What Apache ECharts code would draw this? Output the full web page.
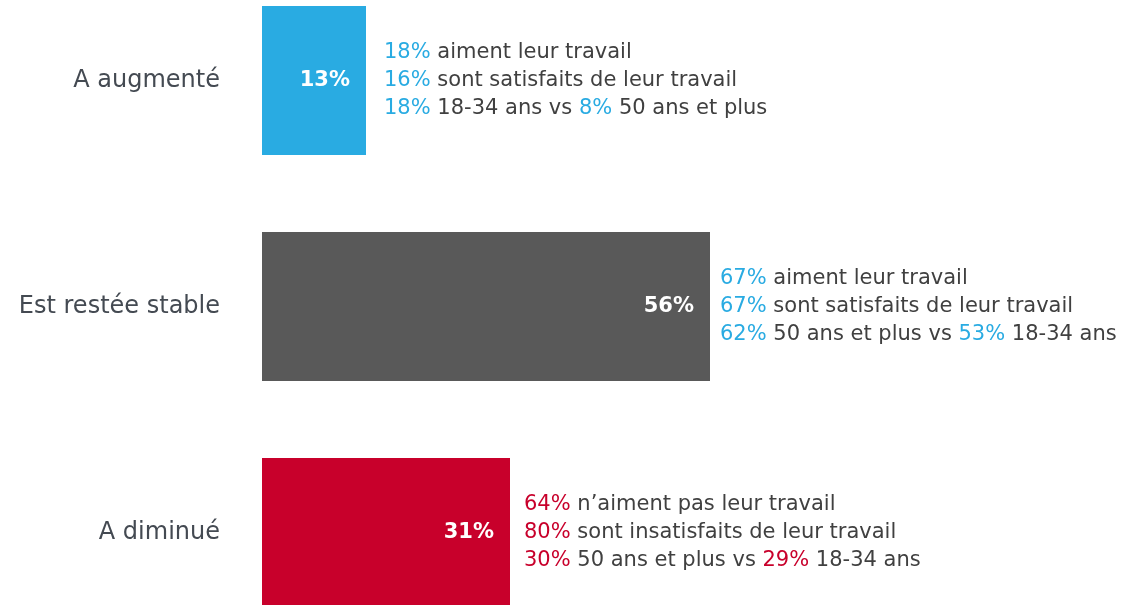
<!DOCTYPE html>
<html>
<head>
<meta charset="utf-8">
<script src="https://cdn.jsdelivr.net/npm/echarts@6/dist/echarts.min.js"></script>
<style>
html,body{margin:0;padding:0;background:#fff;}
#chart{width:1130px;height:605px;}
</style>
</head>
<body>
<div id="chart"></div>
<script>
// ---- Data ----
const categories = ['A augmenté', 'Est restée stable', 'A diminué'];
const values = [13, 56, 31];
// annotation lines: each line is a list of [percent, text] segments
const notes = [
  [
    [['18%', 'aiment leur travail']],
    [['16%', 'sont satisfaits de leur travail']],
    [['18%', '18-34 ans vs'], ['8%', '50 ans et plus']]
  ],
  [
    [['67%', 'aiment leur travail']],
    [['67%', 'sont satisfaits de leur travail']],
    [['62%', '50 ans et plus vs'], ['53%', '18-34 ans']]
  ],
  [
    [['64%', 'n\u2019aiment pas leur travail']],
    [['80%', 'sont insatisfaits de leur travail']],
    [['30%', '50 ans et plus vs'], ['29%', '18-34 ans']]
  ]
];

// ---- Styles ----
const barColors = ['#29ABE2', '#595959', '#C8002B'];
const pctStyle = ['pb', 'pb', 'pr'];
const noteGap = [18, 10, 14];
const FONT = 'DejaVu Sans';
const NFS = 21;

function noteText(idx) {
  const k = pctStyle[idx];
  return notes[idx].map(line =>
    line.map(seg => '{' + k + '|' + seg[0] + '}{t| ' + seg[1] + '}').join('{t| }')
  ).join('\n');
}

const chart = echarts.init(document.getElementById('chart'), null, {renderer: 'canvas'});
chart.setOption({
  animation: false,
  grid: {left: 262, top: -32.5, width: 800, height: 678, containLabel: false, outerBoundsMode: 'none'},
  xAxis: {type: 'value', min: 0, max: 100, show: false},
  yAxis: {
    type: 'category', data: categories, inverse: true,
    axisLine: {show: false}, axisTick: {show: false}, splitLine: {show: false},
    axisLabel: {margin: 42, fontFamily: FONT, fontSize: 24, color: '#444a52'}
  },
  series: [
    {
      type: 'bar', barWidth: 149,
      data: values.map((v, i) => ({value: v, itemStyle: {color: barColors[i]}})),
      label: {
        show: true, position: 'insideRight', distance: 16,
        formatter: p => p.value + '%',
        fontFamily: FONT, fontWeight: 'bold', fontSize: 21, color: '#ffffff'
      }
    },
    {
      type: 'bar', barWidth: 149, barGap: '-100%', silent: true,
      itemStyle: {color: 'rgba(0,0,0,0)'},
      data: values.map((v, i) => ({
        value: v,
        label: {distance: noteGap[i], formatter: () => noteText(i)}
      })),
      label: {
        show: true, position: 'right', align: 'left',
        fontFamily: FONT, fontSize: NFS, lineHeight: 28,
        rich: {
          pb: {color: '#29ABE2', fontFamily: FONT, fontSize: NFS, lineHeight: 28},
          pr: {color: '#C8002B', fontFamily: FONT, fontSize: NFS, lineHeight: 28},
          t: {color: '#404040', fontFamily: FONT, fontSize: NFS, lineHeight: 28}
        }
      }
    }
  ]
});
</script>
</body>
</html>
